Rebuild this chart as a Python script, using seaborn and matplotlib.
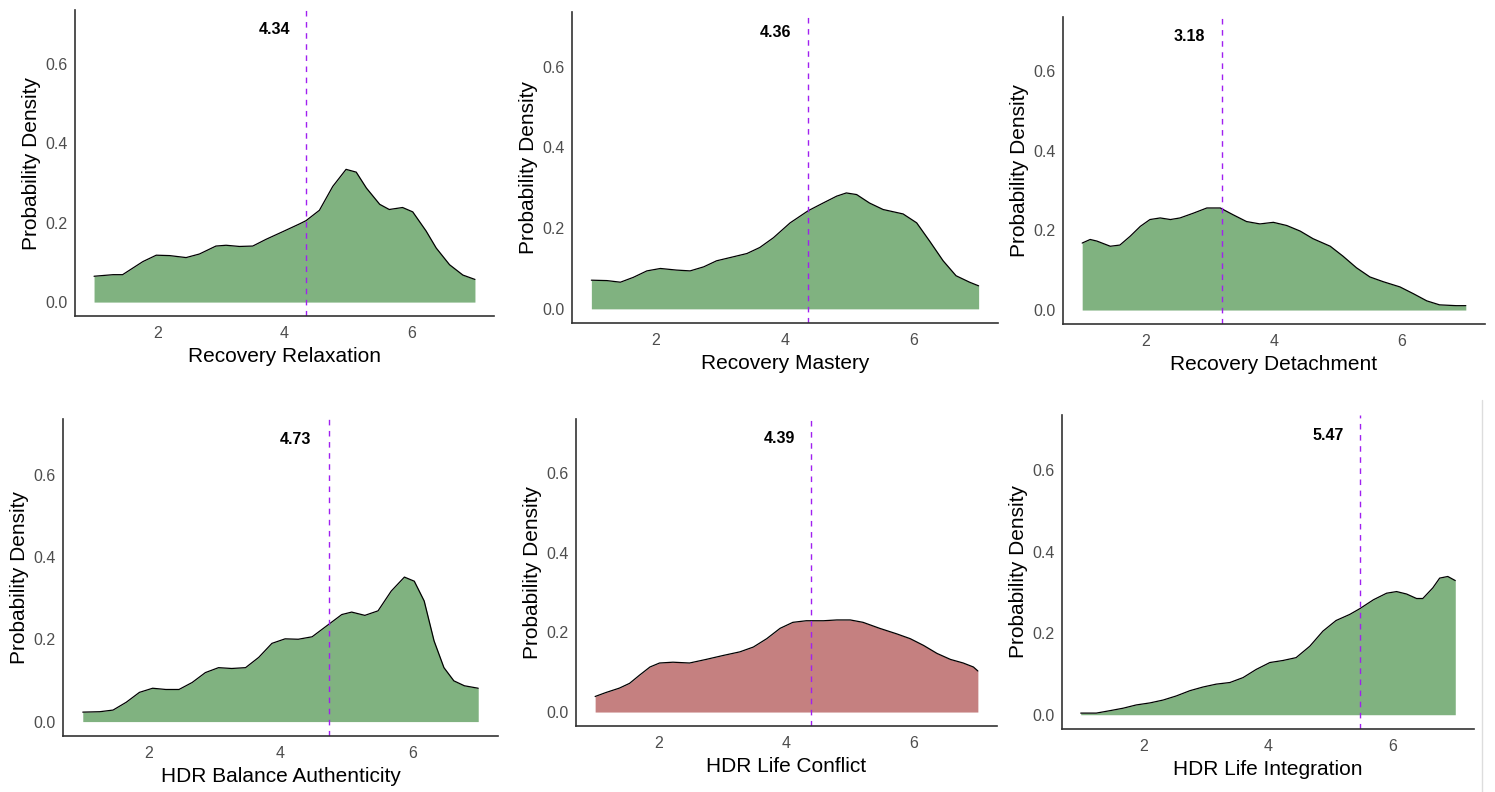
import matplotlib
matplotlib.use("Agg")
import matplotlib.pyplot as plt
import seaborn as sns

# --- datos (curvas de densidad) ---
titles = ["Recovery Relaxation", "Recovery Mastery", "Recovery Detachment",
          "HDR Balance Authenticity", "HDR Life Conflict", "HDR Life Integration"]
means = [4.34, 4.36, 3.18, 4.73, 4.39, 5.47]

x_relax = [1.0, 1.3, 1.45, 1.77, 1.98, 2.19, 2.45, 2.66, 2.92, 3.08, 3.29, 3.5, 3.71, 3.97,
           4.24, 4.34, 4.55, 4.76, 4.97, 5.13, 5.29, 5.5, 5.65, 5.86, 6.02, 6.23, 6.39, 6.6, 6.81, 7.0]
d_relax = [0.065, 0.069, 0.069, 0.102, 0.118, 0.117, 0.112, 0.121, 0.141, 0.143, 0.140, 0.141, 0.158, 0.177,
           0.197, 0.205, 0.231, 0.291, 0.334, 0.327, 0.287, 0.246, 0.233, 0.238, 0.227, 0.179, 0.136, 0.094, 0.068, 0.057]

x_mast = [1.0, 1.24, 1.45, 1.65, 1.86, 2.07, 2.32, 2.53, 2.74, 2.94, 3.15, 3.41, 3.61, 3.82, 4.08,
          4.36, 4.59, 4.8, 4.95, 5.11, 5.31, 5.52, 5.83, 6.04, 6.24, 6.45, 6.65, 6.86, 7.0]
d_mast = [0.071, 0.070, 0.066, 0.078, 0.094, 0.100, 0.096, 0.094, 0.104, 0.119, 0.127, 0.137, 0.152, 0.176, 0.213,
          0.243, 0.262, 0.279, 0.287, 0.283, 0.262, 0.246, 0.235, 0.213, 0.168, 0.119, 0.082, 0.066, 0.057]

x_det = [1.0, 1.125, 1.23, 1.44, 1.59, 1.75, 1.91, 2.06, 2.22, 2.38, 2.53, 2.74, 2.95, 3.16, 3.36, 3.57,
         3.78, 3.99, 4.2, 4.41, 4.61, 4.88, 5.08, 5.29, 5.5, 5.71, 5.97, 6.18, 6.39, 6.59, 6.85, 7.0]
d_det = [0.168, 0.177, 0.173, 0.160, 0.163, 0.185, 0.210, 0.227, 0.231, 0.227, 0.231, 0.243, 0.256, 0.256, 0.239, 0.222,
         0.216, 0.220, 0.212, 0.198, 0.179, 0.160, 0.135, 0.106, 0.083, 0.071, 0.058, 0.041, 0.023, 0.013, 0.011, 0.011]

x_auth = [1.0, 1.26, 1.46, 1.66, 1.86, 2.06, 2.26, 2.46, 2.66, 2.86, 3.06, 3.26, 3.47, 3.67, 3.87, 4.07,
          4.27, 4.48, 4.73, 4.93, 5.08, 5.28, 5.48, 5.68, 5.88, 6.03, 6.18, 6.33, 6.48, 6.63, 6.79, 7.0]
d_auth = [0.023, 0.024, 0.028, 0.047, 0.071, 0.081, 0.078, 0.078, 0.095, 0.119, 0.131, 0.129, 0.131, 0.156, 0.190, 0.201,
          0.200, 0.206, 0.236, 0.260, 0.266, 0.258, 0.269, 0.317, 0.351, 0.341, 0.293, 0.196, 0.131, 0.099, 0.087, 0.081]

x_conf = [1.0, 1.17, 1.38, 1.54, 1.7, 1.86, 2.01, 2.22, 2.48, 2.74, 3.01, 3.27, 3.48, 3.69, 3.9, 4.1,
          4.31, 4.58, 4.79, 5.0, 5.2, 5.46, 5.73, 5.94, 6.15, 6.36, 6.57, 6.77, 6.93, 7.0]
d_conf = [0.039, 0.049, 0.060, 0.072, 0.093, 0.113, 0.123, 0.125, 0.123, 0.132, 0.142, 0.151, 0.163, 0.184, 0.210, 0.225,
          0.229, 0.229, 0.231, 0.231, 0.225, 0.210, 0.196, 0.184, 0.167, 0.147, 0.132, 0.123, 0.113, 0.103]

x_integ = [1.0, 1.25, 1.47, 1.68, 1.89, 2.11, 2.32, 2.53, 2.75, 2.96, 3.17, 3.39, 3.6, 3.81, 4.03, 4.24,
           4.45, 4.67, 4.88, 5.09, 5.31, 5.47, 5.69, 5.9, 6.06, 6.22, 6.38, 6.48, 6.64, 6.75, 6.88, 7.0]
d_integ = [0.004, 0.004, 0.010, 0.016, 0.024, 0.029, 0.036, 0.046, 0.059, 0.068, 0.075, 0.079, 0.091, 0.111, 0.128, 0.133,
           0.140, 0.168, 0.205, 0.231, 0.246, 0.260, 0.282, 0.298, 0.302, 0.296, 0.285, 0.285, 0.311, 0.335, 0.339, 0.329]

xs = [x_relax, x_mast, x_det, x_auth, x_conf, x_integ]
ds = [d_relax, d_mast, d_det, d_auth, d_conf, d_integ]
fills = ["#80B280", "#80B280", "#80B280", "#80B280", "#C58080", "#80B280"]

# posiciones de cada panel en pixeles: izquierda, derecha, arriba, abajo
W, H = 1495, 792
boxes = [(75, 494, 10, 316), (572, 998, 12, 323), (1063, 1485, 17, 324),
         (63, 498, 419, 736), (576, 997, 419, 726), (1062, 1474, 415, 729)]

sns.set_theme(style="white")
plt.rcParams["font.family"] = ["Liberation Sans", "DejaVu Sans"]

fig = plt.figure(figsize=(W / 100, H / 100), dpi=100)

for i in range(6):
    l, r, t, b = boxes[i]
    ax = fig.add_axes([l / W, 1 - b / H, (r - l) / W, (b - t) / H])
    ax.fill_between(xs[i], 0, ds[i], color=fills[i], lw=0)
    sns.lineplot(x=xs[i], y=ds[i], ax=ax, color="black", lw=0.9)
    ax.axvline(means[i], color="#A020F0", ls=(0, (4, 4)), lw=1.0)
    ax.text(means[i] - 0.5, 0.685, f"{means[i]:.2f}", ha="center", va="center",
            fontsize=11.5, fontweight="bold", color="black")
    ax.set_xlim(0.7, 7.3)
    ax.set_ylim(-0.035, 0.735)
    ax.set_xticks([2, 4, 6])
    ax.set_yticks([0.0, 0.2, 0.4, 0.6])
    ax.set_yticklabels(["0.0", "0.2", "0.4", "0.6"])
    ax.tick_params(axis="y", length=0, labelsize=11.5, labelcolor="#4D4D4D", pad=5.5)
    ax.tick_params(axis="x", length=0, labelsize=11.5, labelcolor="#4D4D4D", pad=7)
    ax.set_xlabel(titles[i], fontsize=15, color="black", labelpad=4.5)
    ax.set_ylabel("Probability Density", fontsize=15, color="black", labelpad=3)
    for s in ["top", "right"]:
        ax.spines[s].set_visible(False)
    for s in ["left", "bottom"]:
        ax.spines[s].set_color("#333333")
        ax.spines[s].set_linewidth(1.2)
    ax.grid(False)

# linea gris del borde derecho de la imagen original
fig.add_artist(plt.Line2D([1482 / W, 1482 / W], [0, 1 - 400 / H], color="#DDDDDD", lw=1))

plt.savefig("out.png", dpi=100)
plt.close()
